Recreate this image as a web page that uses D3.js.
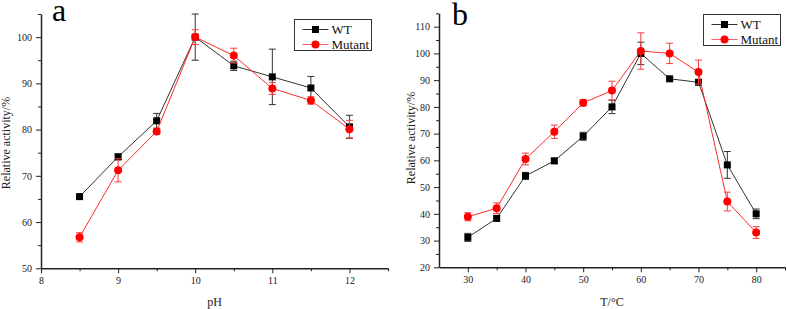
<!DOCTYPE html>
<html>
<head>
<meta charset="utf-8">
<script src="https://cdn.jsdelivr.net/npm/d3@7"></script>
<style>
  body { margin: 0; background: #fff; }
  svg { display: block; font-family: "Liberation Serif", "Times New Roman", serif; }
</style>
</head>
<body>
<svg width="787" height="309"></svg>
<script>
// pH data (panel a)
const phX = [8.5, 9, 9.5, 10, 10.5, 11, 11.5, 12];
const phWT = [65.5, 74.1, 81.9, 100, 93.8, 91.4, 89, 80.6];
const phWTErr = [0.5, 0.6, 1.6, 5, 1, 6, 2.5, 2.5];
const phMut = [56.7, 71.2, 79.6, 100, 96, 88.9, 86.3, 80.1];
const phMutErr = [1, 2.5, 0.6, 1.6, 1.6, 1.3, 0.8, 1.9];
const phXTicks = [8, 9, 10, 11, 12];
const phYTicks = [50, 60, 70, 80, 90, 100];

// temperature data (panel b)
const tX = [30, 35, 40, 45, 50, 55, 60, 65, 70, 75, 80];
const tWT = [31.2, 38.3, 54.2, 59.8, 69, 80, 100, 90.5, 89.2, 58.3, 40];
const tWTErr = [1.5, 1, 1.3, 1, 1.5, 2.5, 4.2, 0.5, 0.6, 5, 1.8];
const tMut = [38.9, 42.1, 60.5, 70.7, 81.5, 86.1, 100.9, 100, 93, 44.6, 33];
const tMutErr = [1.5, 2, 2.2, 2.5, 1.2, 3.5, 6.8, 3.8, 4.5, 3.5, 2.2];
const tXTicks = [30, 40, 50, 60, 70, 80];
const tYTicks = [20, 30, 40, 50, 60, 70, 80, 90, 100, 110];

const seriesNames = ["WT", "Mutant"];

const svg = d3.select("svg");

function panel(opt) {
  const g = svg.append("g");

  const x = d3.scaleLinear().domain(opt.xDomain).range(opt.xRange);
  const y = d3.scaleLinear().domain(opt.yDomain).range(opt.yRange);

  // minor ticks
  g.append("g")
    .attr("transform", `translate(0,${opt.yRange[0]})`)
    .call(d3.axisBottom(x).tickValues(opt.xMinor).tickSize(3).tickFormat(""))
    .call(a => a.select(".domain").remove());
  g.append("g")
    .attr("transform", `translate(${opt.xRange[0]},0)`)
    .call(d3.axisLeft(y).tickValues(opt.yMinor).tickSize(3).tickFormat(""))
    .call(a => a.select(".domain").remove());

  // major axes
  const xa = g.append("g")
    .attr("transform", `translate(0,${opt.yRange[0]})`)
    .call(d3.axisBottom(x).tickValues(opt.xTicks).tickFormat(d3.format("d"))
      .tickSize(5).tickSizeOuter(0).tickPadding(4));
  const ya = g.append("g")
    .attr("transform", `translate(${opt.xRange[0]},0)`)
    .call(d3.axisLeft(y).tickValues(opt.yTicks).tickFormat(d3.format("d"))
      .tickSize(5).tickSizeOuter(0).tickPadding(4));

  [xa, ya].forEach(a => {
    a.selectAll("text").attr("font-family", "Liberation Serif, serif").attr("font-size", 10).attr("fill", "#222");
    a.select(".domain").attr("stroke", "#222").attr("stroke-width", 1.5);
  });
  g.selectAll(".tick line").attr("stroke", "#222").attr("stroke-width", 1);

  // axis titles
  g.append("text")
    .attr("x", (opt.xRange[0] + opt.xRange[1]) / 2)
    .attr("y", 306)
    .attr("text-anchor", "middle")
    .attr("font-size", 12)
    .attr("fill", "#222")
    .text(opt.xTitle);
  g.append("text")
    .attr("transform", `translate(${opt.yTitleX},${opt.yTitleY}) rotate(-90)`)
    .attr("text-anchor", "middle")
    .attr("font-size", 12)
    .attr("fill", "#222")
    .text("Relative activity/%");

  // panel letter
  g.append("text")
    .attr("x", opt.letterX)
    .attr("y", opt.letterY)
    .attr("font-size", 32)
    .attr("fill", "#000")
    .text(opt.letter);

  const series = [
    { vals: opt.wt, err: opt.wtErr, color: "#000", line: "#333", err_c: "#333", shape: "square" },
    { vals: opt.mut, err: opt.mutErr, color: "#ff0000", line: "#ff2a2a", err_c: "#ff3a3a", shape: "circle" }
  ];

  const line = d3.line().x((d, i) => x(opt.xs[i])).y(d => y(d));

  series.forEach(s => {
    g.append("path")
      .attr("d", line(s.vals))
      .attr("fill", "none")
      .attr("stroke", s.line)
      .attr("stroke-width", 1);

    // error bars
    const eb = g.append("g").attr("stroke", s.err_c).attr("stroke-width", 1);
    s.vals.forEach((v, i) => {
      const cx = x(opt.xs[i]);
      const top = y(v + s.err[i]), bot = y(v - s.err[i]);
      eb.append("line").attr("x1", cx).attr("x2", cx).attr("y1", top).attr("y2", bot);
      eb.append("line").attr("x1", cx - 3.5).attr("x2", cx + 3.5).attr("y1", top).attr("y2", top);
      eb.append("line").attr("x1", cx - 3.5).attr("x2", cx + 3.5).attr("y1", bot).attr("y2", bot);
    });

    // markers
    s.vals.forEach((v, i) => {
      const cx = x(opt.xs[i]), cy = y(v);
      if (s.shape === "square") {
        g.append("rect").attr("x", cx - 3.5).attr("y", cy - 3.5).attr("width", 7).attr("height", 7).attr("fill", s.color);
      } else {
        g.append("circle").attr("cx", cx).attr("cy", cy).attr("r", 4).attr("fill", s.color);
      }
    });
  });

  // legend
  const lg = g.append("g").attr("transform", `translate(${opt.legX},${opt.legY})`);
  lg.append("rect").attr("x", 0).attr("y", 0).attr("width", 77).attr("height", 31)
    .attr("fill", "#fff").attr("stroke", "#333").attr("stroke-width", 1);
  series.forEach((s, i) => {
    const ly = 10 + i * 15;
    lg.append("line").attr("x1", 8).attr("x2", 34).attr("y1", ly).attr("y2", ly)
      .attr("stroke", i === 0 ? "#333" : "#ff5a6a").attr("stroke-width", 1);
    if (s.shape === "square") {
      lg.append("rect").attr("x", 21 - 3.5).attr("y", ly - 3.5).attr("width", 7).attr("height", 7).attr("fill", s.color);
    } else {
      lg.append("circle").attr("cx", 21).attr("cy", ly).attr("r", 4).attr("fill", s.color);
    }
    lg.append("text").attr("x", 37).attr("y", ly + 4.5).attr("font-size", 13).attr("fill", "#111").text(seriesNames[i]);
  });
}

panel({
  xs: phX, wt: phWT, wtErr: phWTErr, mut: phMut, mutErr: phMutErr,
  xDomain: [8, 12.5], yDomain: [50, 105],
  xRange: [41, 388], yRange: [268.3, 14],
  xTicks: phXTicks, yTicks: phYTicks,
  xMinor: [8.5, 9.5, 10.5, 11.5, 12.5], yMinor: [55, 65, 75, 85, 95, 105],
  xTitle: "pH", yTitleX: 10, yTitleY: 143,
  letter: "a", letterX: 52, letterY: 21,
  legX: 294.5, legY: 19.5
});

panel({
  xs: tX, wt: tWT, wtErr: tWTErr, mut: tMut, mutErr: tMutErr,
  xDomain: [25, 85], yDomain: [20, 115],
  xRange: [439, 785], yRange: [267.3, 13.3],
  xTicks: tXTicks, yTicks: tYTicks,
  xMinor: [35, 45, 55, 65, 75, 85], yMinor: [25, 35, 45, 55, 65, 75, 85, 95, 105, 115],
  xTitle: "T/°C", yTitleX: 415, yTitleY: 138,
  letter: "b", letterX: 452, letterY: 25,
  legX: 703.5, legY: 14.5
});
</script>
</body>
</html>
